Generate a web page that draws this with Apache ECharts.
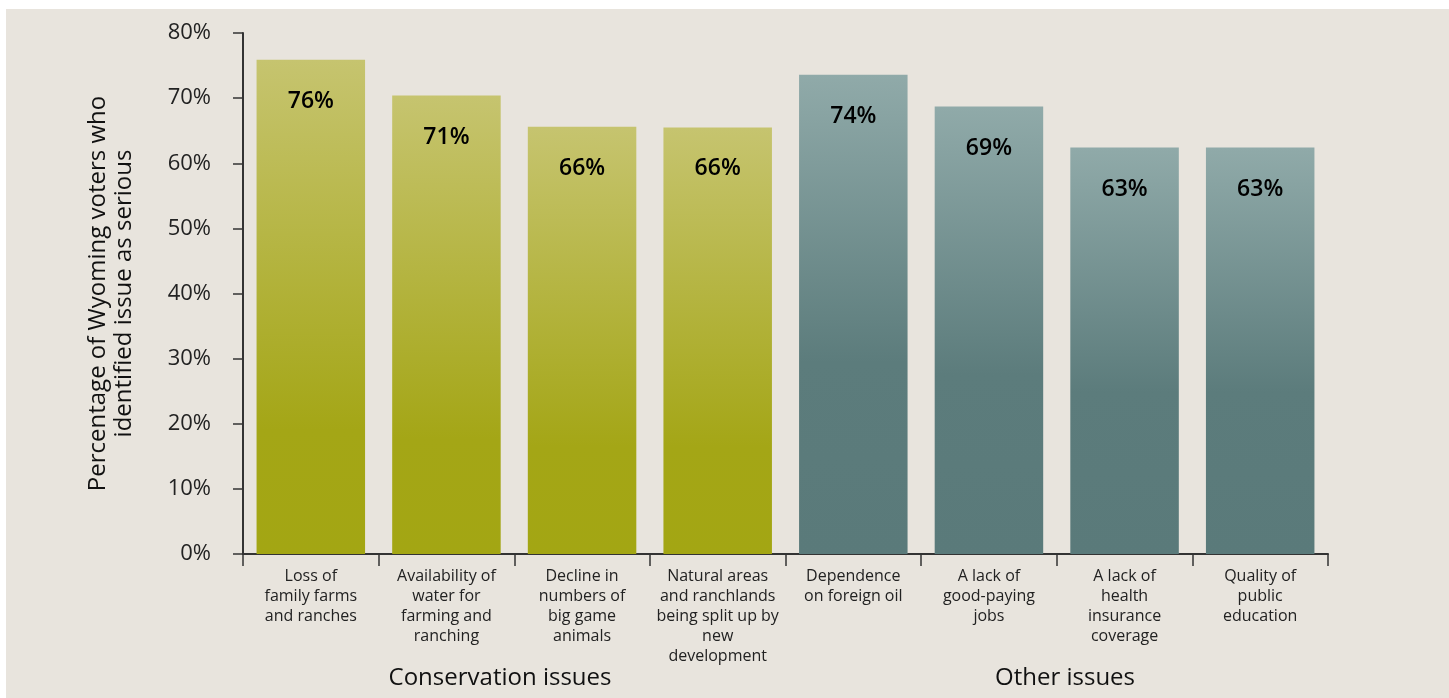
<!DOCTYPE html>
<html><head><meta charset="utf-8">
<script src="https://cdn.jsdelivr.net/npm/echarts@6/dist/echarts.min.js"></script>
<style>html,body{margin:0;padding:0;background:#fff;}#c{width:1449px;height:698px;}</style>
</head><body><div id="c"></div>
<script>
const categories = [
  "Loss of\nfamily farms\nand ranches",
  "Availability of\nwater for\nfarming and\nranching",
  "Decline in\nnumbers of\nbig game\nanimals",
  "Natural areas\nand ranchlands\nbeing split up by\nnew\ndevelopment",
  "Dependence\non foreign oil",
  "A lack of\ngood-paying\njobs",
  "A lack of\nhealth\ninsurance\ncoverage",
  "Quality of\npublic\neducation"
];
const values = [75.9, 70.4, 65.6, 65.5, 73.6, 68.7, 62.4, 62.4];
const valueLabels = ["76%", "71%", "66%", "66%", "74%", "69%", "63%", "63%"];
const groups = ["conservation","conservation","conservation","conservation","other","other","other","other"];
const groupTitles = ["Conservation issues", "Other issues"];
const yTicks = [0, 10, 20, 30, 40, 50, 60, 70, 80];

const FONT = "'Open Sans', Lato, sans-serif";
const greenGrad = new echarts.graphic.LinearGradient(0,0,0,1,[{offset:0,color:'#c6c46f'},{offset:0.75,color:'#a4a616'},{offset:1,color:'#a3a613'}]);
const tealGrad = new echarts.graphic.LinearGradient(0,0,0,1,[{offset:0,color:'#90aaa9'},{offset:0.6,color:'#5c7c7c'},{offset:1,color:'#5a7a7a'}]);

const chart = echarts.init(document.getElementById('c'));
chart.setOption({
  animation: false,
  backgroundColor: '#fff',
  graphic: [
    {type:'rect', left:6, top:9, shape:{width:1443, height:689}, style:{fill:'#e8e4dd'}, z:-10, silent:true},
    {type:'text', x:500, y:678, style:{text:groupTitles[0], font:'24px '+FONT, fill:'#111', align:'center', verticalAlign:'middle'}},
    {type:'text', x:1065, y:678, style:{text:groupTitles[1], font:'24px '+FONT, fill:'#111', align:'center', verticalAlign:'middle'}}
  ],
  grid: {left:243, right:121, top:33, bottom:144},
  xAxis: {
    type:'category', data: categories,
    axisLine:{show:true, lineStyle:{color:'#333', width:2}},
    axisTick:{show:true, alignWithLabel:false, length:12, lineStyle:{color:'#333', width:1.5}},
    axisLabel:{color:'#222', fontFamily:FONT, fontSize:16, lineHeight:20, margin:12, interval:0}
  },
  yAxis: {
    type:'value', min:yTicks[0], max:yTicks[yTicks.length-1], interval:10,
    name:'Percentage of Wyoming voters who\nidentified issue as serious',
    nameLocation:'middle', nameRotate:90, nameGap:106,
    nameTextStyle:{color:'#111', fontFamily:FONT, fontSize:24, lineHeight:26},
    axisLine:{show:true, lineStyle:{color:'#333', width:2}},
    axisTick:{show:true, length:10, lineStyle:{color:'#333', width:1.5}},
    splitLine:{show:false},
    axisLabel:{color:'#222', fontFamily:FONT, fontSize:22, margin:32, formatter: v => v + '%'}
  },
  series: [{
    type:'bar', barWidth:'80%',
    data: values.map((v,i)=>({value:v, itemStyle:{color: groups[i]==='conservation'?greenGrad:tealGrad}})),
    label:{show:true, position:'insideTop', distance:30, color:'#000', fontFamily:FONT, fontSize:23, fontWeight:600,
      formatter: p => valueLabels[p.dataIndex]}
  }]
});
</script></body></html>
